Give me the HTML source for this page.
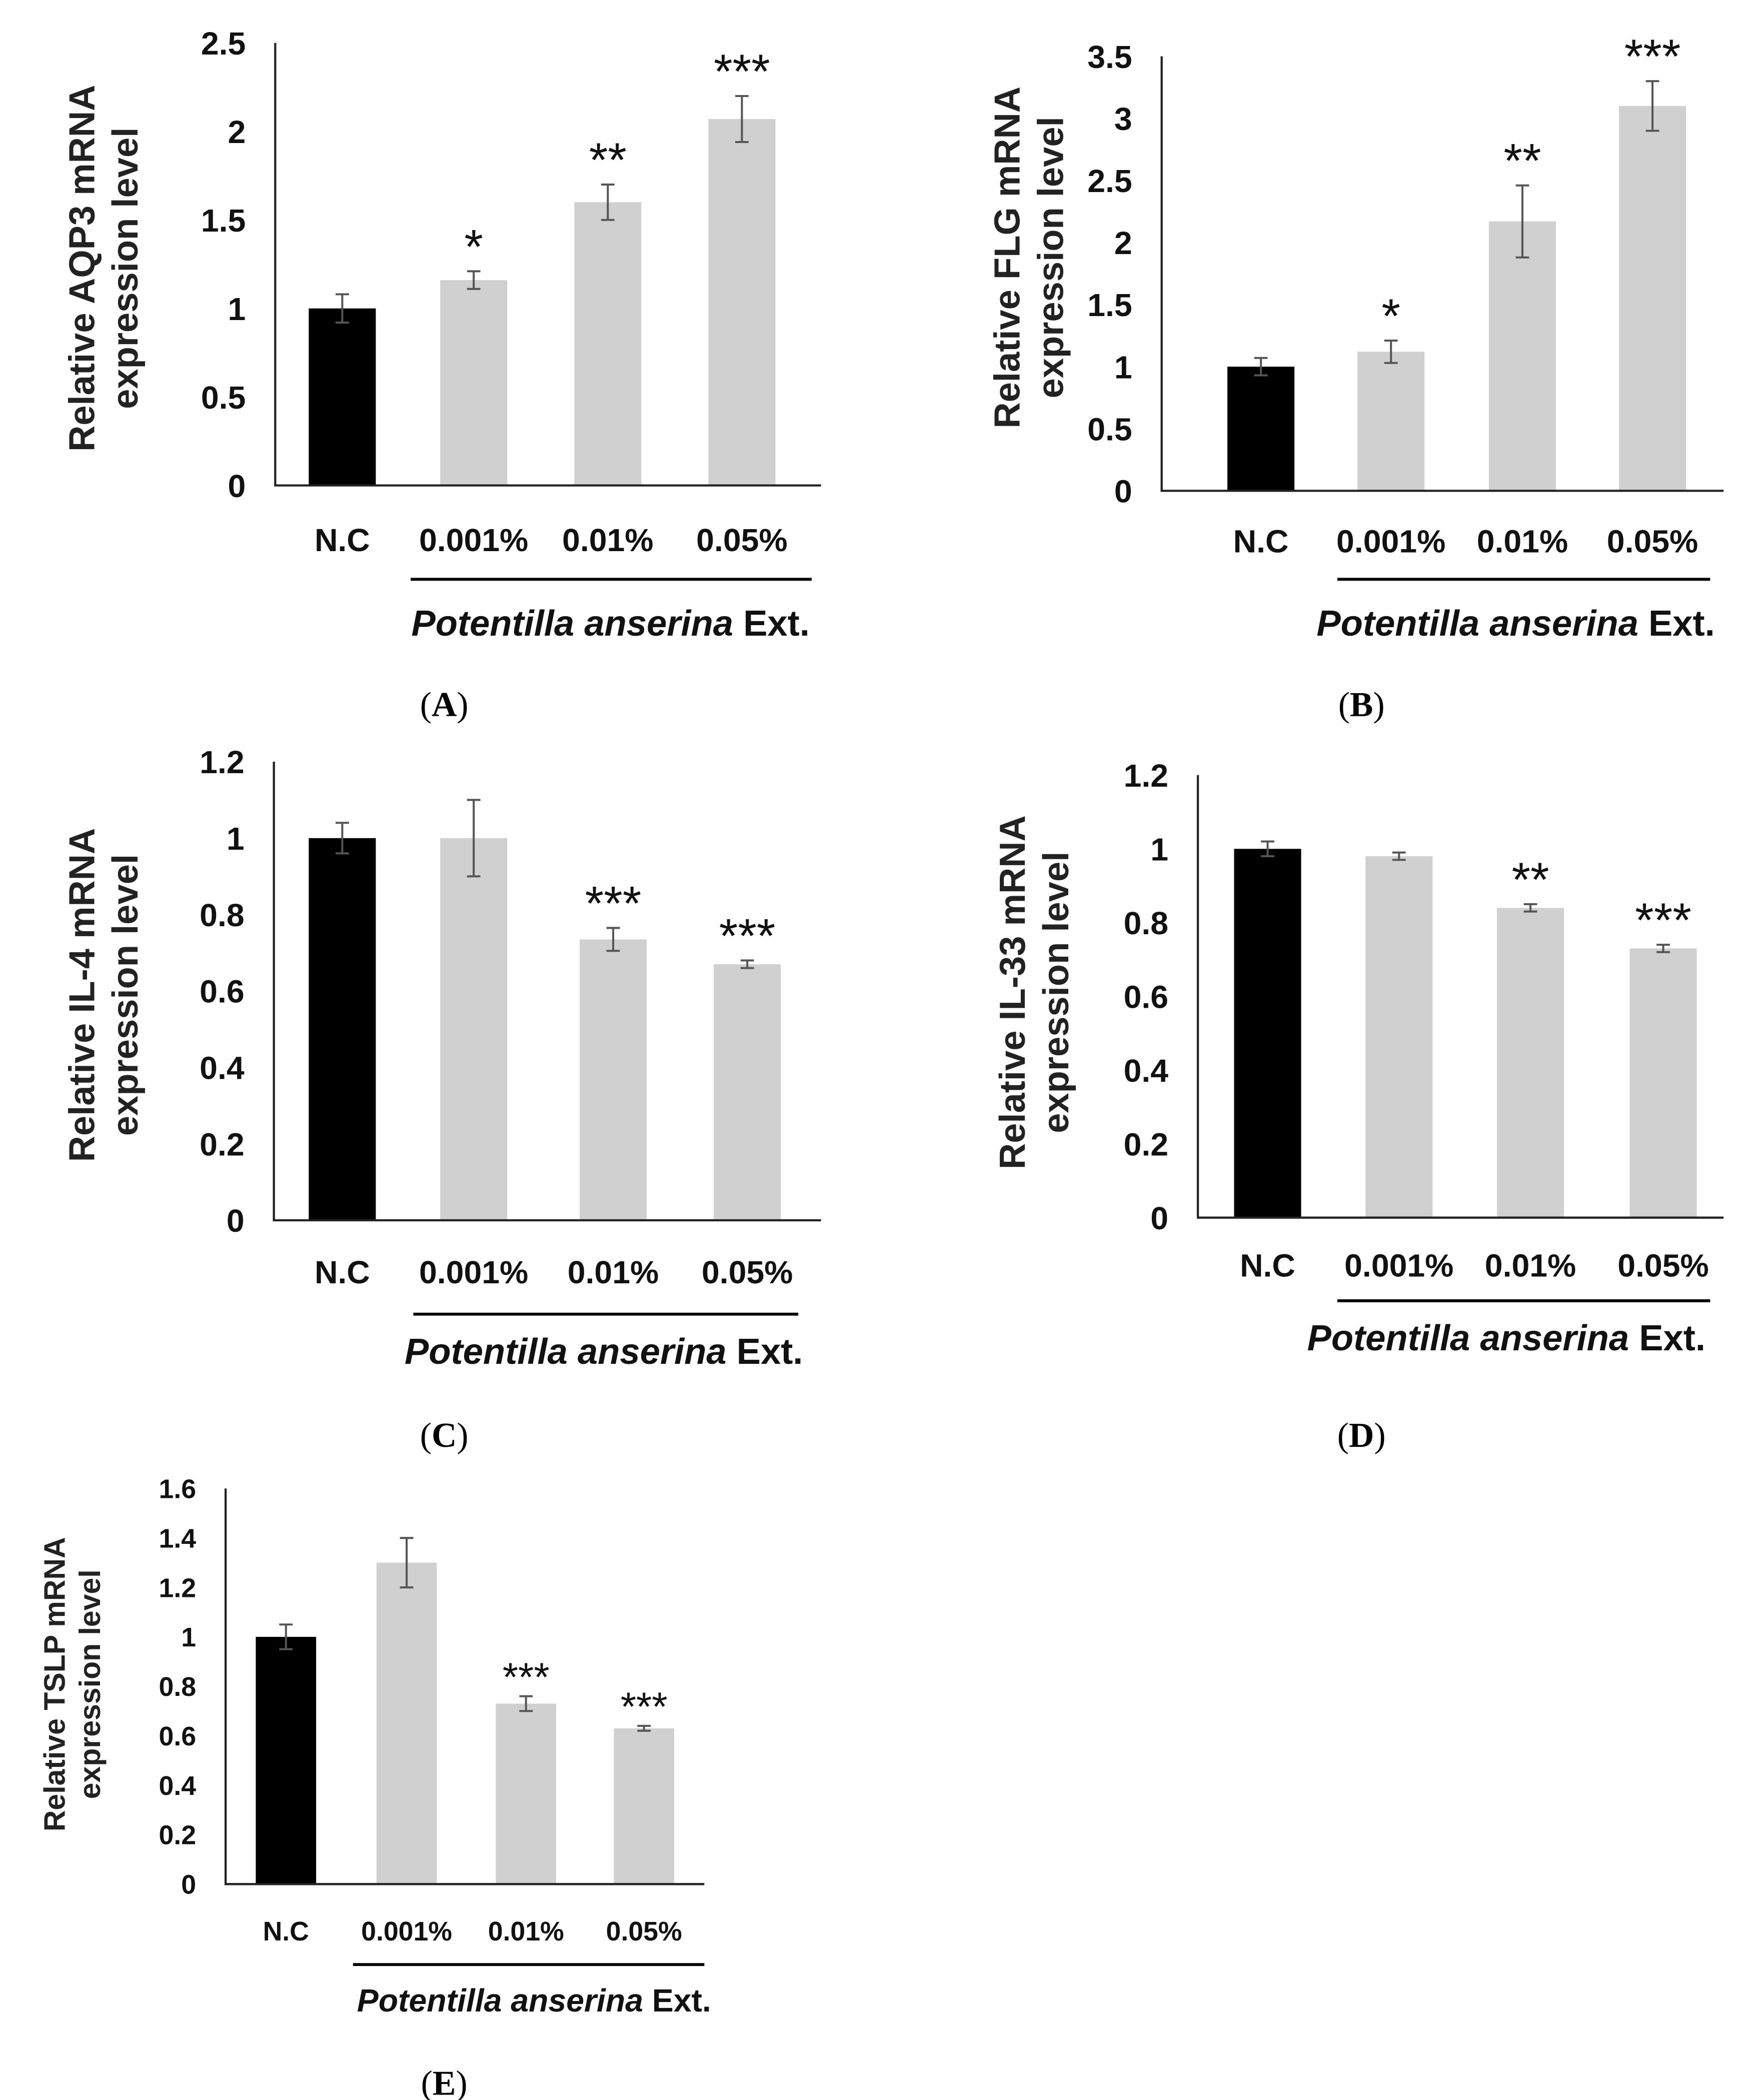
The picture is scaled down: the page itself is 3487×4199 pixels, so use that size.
<!DOCTYPE html>
<html><head><meta charset="utf-8">
<style>
html,body{margin:0;padding:0;background:#fff;}
svg{display:block;}
</style></head>
<body>
<svg id="fig" width="3487" height="4199" viewBox="0 0 1300 1566" xmlns="http://www.w3.org/2000/svg" font-family="Liberation Sans, Arial, sans-serif"></svg>
<script>
const categories = ["N.C","0.001%","0.01%","0.05%"];
const valuesA = [1.0,1.16,1.6,2.07];
const errorsA = [0.08,0.05,0.1,0.13];
const starsA = ["","*","**","***"];
const ticksA = ["0","0.5","1","1.5","2","2.5"];
const valuesB = [1.0,1.12,2.17,3.1];
const errorsB = [0.07,0.09,0.29,0.2];
const starsB = ["","*","**","***"];
const ticksB = ["0","0.5","1","1.5","2","2.5","3","3.5"];
const valuesC = [1.0,1.0,0.735,0.67];
const errorsC = [0.04,0.1,0.03,0.01];
const starsC = ["","","***","***"];
const ticksC = ["0","0.2","0.4","0.6","0.8","1","1.2"];
const valuesD = [1.0,0.98,0.84,0.73];
const errorsD = [0.02,0.01,0.01,0.01];
const starsD = ["","","**","***"];
const ticksD = ["0","0.2","0.4","0.6","0.8","1","1.2"];
const valuesE = [1.0,1.3,0.73,0.63];
const errorsE = [0.05,0.1,0.03,0.01];
const starsE = ["","","***","***"];
const ticksE = ["0","0.2","0.4","0.6","0.8","1","1.2","1.4","1.6"];

const NS="http://www.w3.org/2000/svg";
const svg=document.getElementById('fig');
function mk(tag,attrs,parent){const e=document.createElementNS(NS,tag);for(const k in attrs)e.setAttribute(k,attrs[k]);(parent||svg).appendChild(e);return e;}

function panel(cfg){
  const g=mk('g',{});
  
  
  const ymax=parseFloat(cfg.ticks[cfg.ticks.length-1]);
  const y=v=>cfg.y0-(v/ymax)*(cfg.y0-cfg.yTop);
  cfg.ticks.forEach(t=>{
    const tx=mk('text',{x:cfg.ax-22,y:y(parseFloat(t))+cfg.fs*0.36,'text-anchor':'end','font-size':cfg.fs,'font-weight':'bold',fill:'#111'},g);
    tx.textContent=t;
    
    
  });
  cfg.values.forEach((v,i)=>{
    const cx=cfg.centers[i];
    const r=mk('rect',{x:cx-cfg.bw/2,y:y(v),width:cfg.bw,height:cfg.y0-y(v),fill:i===0?'#000':'#d0d0d0'},g);
    
    
    const e=cfg.errors[i];
    const eb=mk('path',{d:`M${cx},${y(v+e)}V${y(v-e)}M${cx-5},${y(v+e)}H${cx+5}M${cx-5},${y(v-e)}H${cx+5}`,stroke:'#555','stroke-width':1.5,fill:'none'},g);
    
    
    if(cfg.stars[i]){
      const s=mk('text',{x:cx,y:y(v+e)-cfg.sOff,'text-anchor':'middle','font-size':cfg.sfs,fill:'#111'},g);
      s.textContent=cfg.stars[i];
      
      
    }
    const c=mk('text',{x:cx,y:cfg.labY,'text-anchor':'middle','font-size':cfg.fs,'font-weight':'bold',fill:'#111'},g);
    c.textContent=categories[i];
    
    
  });
  const axes=mk('path',{d:`M${cfg.ax},${cfg.yTop}V${cfg.y0}H${cfg.xEnd}`,stroke:'#222','stroke-width':1.6,fill:'none'},g);
  
  
  const ln=mk('line',{x1:cfg.lineX1,x2:cfg.lineX2,y1:cfg.lineY,y2:cfg.lineY,stroke:'#000','stroke-width':2.2},g);
  
  
  const et=mk('text',{x:cfg.extX,y:cfg.extY,'text-anchor':'middle','font-size':cfg.efs,'font-weight':'bold',fill:'#111'},g);
  et.innerHTML='<tspan font-style="italic">Potentilla anserina</tspan> Ext.';
  
  
  const yt=mk('text',{transform:`translate(${cfg.ytX},${cfg.ytY}) rotate(-90)`,'text-anchor':'middle','font-size':cfg.tfs,'font-weight':'bold',fill:'#222'},g);
  yt.innerHTML=`<tspan x="0" dy="0">Relative ${cfg.gene} mRNA</tspan><tspan x="0" dy="${cfg.tfs*1.2}">expression level</tspan>`;
  
  
  const pl=mk('text',{x:cfg.plX,y:cfg.plY,'text-anchor':'middle','font-size':26,style:'font-family:"Liberation Serif",serif',fill:'#000'},g);
  pl.innerHTML=`(<tspan font-weight="bold">${cfg.id}</tspan>)`;
  
  
}

panel({id:'A',gene:'AQP3',values:valuesA,errors:errorsA,stars:starsA,ticks:ticksA,ax:205,yTop:32,y0:362,xEnd:612,
  centers:[255,353,453,553],bw:50,fs:24,sfs:36,sOff:6,labY:411,lineX1:306,lineX2:605,lineY:432,extX:455,extY:474,efs:27,
  ytX:70,ytY:200,tfs:27,plX:331,plY:534});
panel({id:'B',gene:'FLG',values:valuesB,errors:errorsB,stars:starsB,ticks:ticksB,ax:866,yTop:42,y0:366,xEnd:1285,
  centers:[940,1037,1135,1232],bw:50,fs:24,sfs:36,sOff:6,labY:412,lineX1:997,lineX2:1275,lineY:432,extX:1130,extY:474,efs:27,
  ytX:760,ytY:192,tfs:27,plX:1015,plY:534});
panel({id:'C',gene:'IL-4',values:valuesC,errors:errorsC,stars:starsC,ticks:ticksC,ax:204,yTop:568,y0:910,xEnd:612,
  centers:[255,353,457,557],bw:50,fs:24,sfs:36,sOff:6,labY:957,lineX1:308,lineX2:595,lineY:980,extX:450,extY:1017,efs:27,
  ytX:70,ytY:742,tfs:27,plX:331,plY:1079});
panel({id:'D',gene:'IL-33',values:valuesD,errors:errorsD,stars:starsD,ticks:ticksD,ax:893,yTop:578,y0:908,xEnd:1285,
  centers:[945,1043,1141,1240],bw:50,fs:24,sfs:36,sOff:6,labY:952,lineX1:997,lineX2:1275,lineY:970,extX:1123,extY:1007,efs:27,
  ytX:764,ytY:740,tfs:27,plX:1015,plY:1079});
panel({id:'E',gene:'TSLP',values:valuesE,errors:errorsE,stars:starsE,ticks:ticksE,ax:168,yTop:1110,y0:1405,xEnd:525,
  centers:[213,303,392,480],bw:45,fs:20,sfs:30,sOff:4,labY:1447,lineX1:263,lineX2:525,lineY:1465,extX:398,extY:1500,efs:24,
  ytX:48,ytY:1256,tfs:22,plX:331,plY:1562});
</script>
</body></html>
